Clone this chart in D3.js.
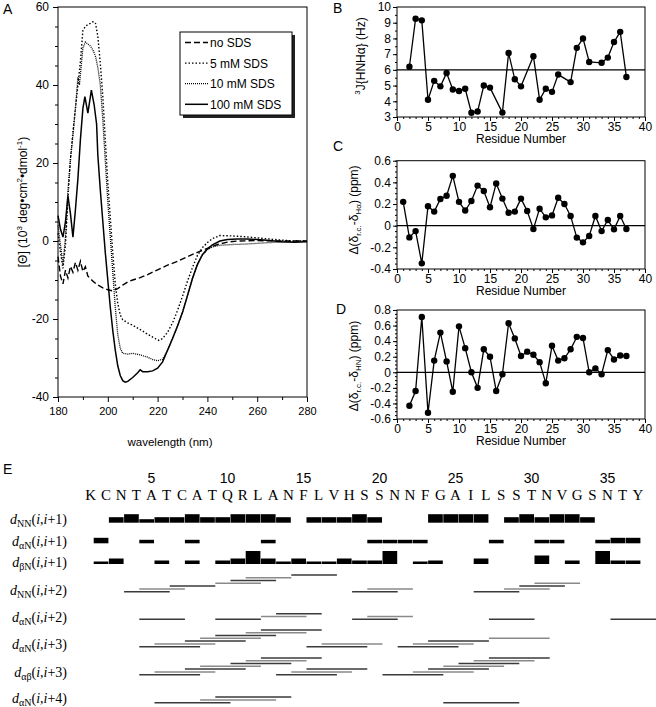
<!DOCTYPE html>
<html>
<head>
<meta charset="utf-8">
<script src="https://cdn.jsdelivr.net/npm/d3@7"></script>
<style>
  body { margin: 0; background: #fff; }
  svg { display: block; }
</style>
</head>
<body>
<svg id="chart" width="656" height="707"></svg>
<script>
'use strict';

// ---- Panel A: CD spectra, [wavelength (nm), [Θ] (10^3 deg cm2 dmol-1)] ----
const cdNoSds = [
  [180, -4], [181, -9], [182, -11], [183, -7.5], [184, -9.5], [185, -6.5], [186, -8],
  [187, -5.5], [188, -7.5], [189, -5.2], [190, -7.8], [191, -6.6], [192, -9], [194, -10.3],
  [196, -11.3], [198, -12], [200, -12.5], [202, -12.8], [204, -12.2], [206, -11.3],
  [208, -10.5], [210, -10], [213, -9.4], [216, -8.6], [220, -7.4], [224, -6.2],
  [228, -5.2], [232, -4], [236, -2.9], [240, -1.9], [244, -0.9], [248, -0.3],
  [252, 0], [260, 0.1], [270, 0], [280, 0]
];
const cd5mM = [
  [180, 2], [181, -3], [182, -7], [183, -1], [184, 11], [185, 21], [186, 28],
  [187, 34], [188, 40], [189, 46], [190, 54], [191, 55], [192, 55.5], [193, 55.8],
  [194, 56.2], [195, 56], [196, 52.5], [197, 45.5], [198, 37], [199, 26], [200, 15],
  [201, 6], [202, -3], [203, -11], [204, -16], [205, -19], [206, -20.2], [208, -21],
  [210, -21.6], [213, -22.7], [216, -23.9], [219, -25], [220.5, -25.5], [222, -25],
  [224, -23.4], [226, -21], [228, -17.8], [230, -14.2], [232, -10.3], [234, -6.8],
  [236, -3.7], [238, -1.7], [240, -0.4], [242, 0.6], [245, 1.4], [250, 1.3],
  [255, 1.1], [260, 0.8], [265, 0.5], [270, 0.2], [275, 0], [280, 0]
];
const cd10mM = [
  [180, 4], [181, -1], [182, -6], [183, 1], [184, 13], [185, 21], [186, 27],
  [187, 34], [188, 42], [188.6, 40], [189.2, 44], [190, 49.5], [191, 51], [192, 50.5],
  [193, 50], [194, 49], [195, 47.5], [196, 44.5], [197, 40], [198, 31], [199, 20.5],
  [200, 10], [201, 1], [202, -8], [203, -17], [204, -24], [205, -27.5], [206, -28.8],
  [208, -29], [210, -28.8], [213, -29.2], [216, -29.8], [218, -30.4], [220, -30.7],
  [222, -30.3], [224, -28], [226, -25], [228, -21.8], [230, -18.3], [232, -14],
  [234, -9.6], [236, -6], [238, -3.6], [240, -2.2], [242, -1.5], [245, -1.1],
  [250, -0.9], [255, -0.8], [260, -0.6], [265, -0.4], [270, -0.3], [275, -0.1], [280, 0]
];
const cd100mM = [
  [180, 6.5], [181, 3], [182, 1], [183, 5], [184, 11.5], [185, 7], [186, 1],
  [187, 8], [188, 16], [189, 26], [190, 34], [190.8, 37], [192, 32.8], [193.4, 38.7],
  [194.5, 35], [195.5, 30], [196, 22], [197, 13], [198, 5], [199, -3], [200, -10],
  [201, -17], [202, -23], [203, -28], [204, -32], [205, -34.5], [206, -35.8],
  [207, -36.2], [208, -36], [210, -35], [212, -33.8], [213, -33], [214, -33.5],
  [216, -33.5], [218, -33.3], [220, -32.6], [222, -31], [224, -28], [226, -25],
  [228, -21.8], [230, -18.3], [232, -14], [234, -9.6], [236, -6], [238, -3.5],
  [240, -2], [242, -1], [245, 0], [248, 0.4], [252, 0.5], [256, 0.5], [260, 0.4],
  [265, 0.1], [270, -0.2], [275, -0.3], [280, -0.2]
];
const cdLegend = ['no SDS', '5 mM SDS', '10 mM SDS', '100 mM SDS'];
const cdXTicks = [180, 200, 220, 240, 260, 280];
const cdYTicks = [-40, -20, 0, 20, 40, 60];

// ---- Panel B: 3J(HNHa) coupling constants ----
const jResidues = [2, 3, 4, 5, 6, 7, 8, 9, 10, 11, 12, 13, 14, 15, 17, 18, 19, 20,
  22, 23, 24, 25, 26, 28, 29, 30, 31, 33, 34, 35, 36, 37];
const jValues = [6.2, 9.25, 9.15, 4.1, 5.3, 4.95, 5.8, 4.75, 4.65, 4.8, 3.27, 3.35,
  5.0, 4.87, 3.28, 7.07, 5.4, 4.95, 6.87, 4.1, 4.8, 4.6, 5.7, 5.22, 7.4, 8.0, 6.5,
  6.45, 6.78, 7.77, 8.42, 5.55];
const jRef = 6;
const jTicks = [3, 4, 5, 6, 7, 8, 9, 10];

// ---- Panel C: Ha secondary shifts, residues 1-37 ----
const haResidues = d3.range(1, 38);
const haShift = [0.22, -0.108, -0.05, -0.348, 0.18, 0.13, 0.246, 0.277, 0.46, 0.22,
  0.14, 0.228, 0.37, 0.32, 0.17, 0.39, 0.25, 0.12, 0.13, 0.25,
  0.135, -0.03, 0.157, 0.077, 0.095, 0.258, 0.2, 0.09, -0.11, -0.154,
  -0.095, 0.09, -0.05, 0.052, -0.034, 0.09, -0.03];
const haTicks = [-0.4, -0.2, 0, 0.2, 0.4, 0.6];

// ---- Panel D: HN secondary shifts, residues 2-37 ----
const hnResidues = d3.range(2, 38);
const hnShift = [-0.43, -0.24, 0.71, -0.52, 0.15, 0.51, 0.14, -0.25, 0.59, 0.31,
  0.0, -0.2, 0.295, 0.2, -0.24, -0.025, 0.63, 0.435, 0.21, 0.265,
  0.225, 0.13, -0.14, 0.34, 0.15, 0.18, 0.295, 0.455, 0.44, 0.0,
  0.05, -0.025, 0.285, 0.165, 0.215, 0.21];
const hnTicks = [-0.6, -0.4, -0.2, 0, 0.2, 0.4, 0.6, 0.8];
const residueTicks = [0, 5, 10, 15, 20, 25, 30, 35, 40];

// ---- Panel E: sequence and NOE connectivities ----
const sequence = 'KCNTATCATQRLANFLVHSSNNFGAILSSTNVGSNTY';
const sequenceTicks = [5, 10, 15, 20, 25, 30, 35];
// [residue i, NOE intensity class 1 (weak) .. 5 (very strong)]
const noeNN1 = [[2, 3], [3, 4], [4, 2], [5, 3], [6, 3], [7, 4], [8, 3], [9, 3], [10, 4],
  [11, 4], [12, 4], [13, 3], [15, 3], [16, 3], [17, 3], [18, 4], [19, 3], [23, 4],
  [24, 4], [25, 4], [26, 4], [28, 3], [29, 4], [30, 3], [31, 4], [32, 4], [33, 3]];
const noeAN1 = [[1, 3], [4, 2], [7, 2], [12, 2], [19, 2], [20, 2], [21, 2], [22, 2],
  [27, 2], [30, 2], [31, 2], [34, 2], [35, 3], [36, 3]];
const noeBN1 = [[1, 1], [2, 3], [5, 2], [7, 2], [9, 2], [10, 3], [11, 5], [12, 3],
  [13, 1], [14, 3], [15, 1], [16, 1], [17, 3], [18, 2], [19, 2], [20, 5], [22, 1],
  [23, 2], [26, 3], [30, 4], [32, 2], [34, 5], [35, 2], [36, 2]];
// medium range NOEs: starting residue i
const noeNN2 = [3, 4, 6, 9, 10, 11, 14, 18, 19, 26, 28, 29, 30];
const noeAN2 = [4, 9, 12, 13, 18, 19, 27, 35];
const noeAN3 = [4, 5, 7, 8, 9, 11, 12, 15, 16, 21, 22, 23, 27];
const noeAB3 = [4, 5, 7, 8, 10, 11, 12, 13, 14, 15, 20, 22, 23, 24, 25, 26, 27];
const noeAN4 = [5, 8, 9, 24];

const SANS = "'Liberation Sans', Arial, Helvetica, sans-serif";
const SERIF = "'Liberation Serif', 'Times New Roman', serif";

const svg = d3.select('#chart');

/**
 * Clean up a d3 axis: drop the domain path, set fonts
 */
function styleAxis(sel, fontSize) {
  sel.select('.domain').remove();
  sel.selectAll('line').attr('stroke', '#000');
  sel
    .selectAll('text')
    .attr('font-size', fontSize)
    .attr('font-family', SANS)
    .attr('fill', '#000');
}

/**
 * Append text made of parts: [string, kind] with kind sup, sub, it or null
 */
function richText(text, parts, smallSize) {
  parts.forEach(function(p) {
    const t = text.append('tspan').text(p[0]);
    if (p[1] === 'sup') {
      t.attr('font-size', smallSize).attr('baseline-shift', '5');
    } else if (p[1] === 'sub') {
      t.attr('font-size', smallSize).attr('baseline-shift', '-3');
    } else if (p[1] === 'it') {
      t.attr('font-style', 'italic');
    }
  });
  return text;
}

function panelLetter(label, x, y) {
  svg
    .append('text')
    .attr('x', x)
    .attr('y', y)
    .attr('font-family', SANS)
    .attr('font-size', 14)
    .text(label);
}

// ================= Panel A =================
function drawPanelA() {
  const x = d3.scaleLinear().domain([180, 280]).range([58, 307]);
  const y = d3.scaleLinear().domain([-40, 60]).range([397, 7]);
  const g = svg.append('g').attr('id', 'panel-a');

  g.append('g')
    .attr('transform', 'translate(0,397)')
    .call(d3.axisBottom(x).tickValues(cdXTicks).tickSize(5).tickPadding(5))
    .call(styleAxis, 11);
  g.append('g')
    .attr('transform', 'translate(0,397)')
    .call(d3.axisBottom(x).tickValues([190, 210, 230, 250, 270]).tickSize(3).tickFormat(''))
    .call(styleAxis, 11);
  g.append('g')
    .attr('transform', 'translate(58,0)')
    .call(d3.axisLeft(y).tickValues(cdYTicks).tickSize(5).tickPadding(4).tickFormat(String))
    .call(styleAxis, 12);
  g.append('g')
    .attr('transform', 'translate(58,0)')
    .call(d3.axisLeft(y).tickValues(d3.range(-40, 61, 5)).tickSize(3).tickFormat(''))
    .call(styleAxis, 12);

  g.append('rect')
    .attr('x', 58)
    .attr('y', 7)
    .attr('width', 307 - 58)
    .attr('height', 397 - 7)
    .attr('fill', 'none')
    .attr('stroke', '#000');

  const line = d3
    .line()
    .x(function(d) {
      return x(d[0]);
    })
    .y(function(d) {
      return y(d[1]);
    });

  const series = [
    { data: cdNoSds, dash: '6,3', width: 1.4 },
    { data: cd5mM, dash: '1.5,2', width: 1.4 },
    { data: cd10mM, dash: '1,1', width: 1.3 },
    { data: cd100mM, dash: null, width: 1.5 },
  ];
  series.forEach(function(s) {
    g.append('path')
      .datum(s.data)
      .attr('d', line)
      .attr('fill', 'none')
      .attr('stroke', '#000')
      .attr('stroke-width', s.width)
      .attr('stroke-dasharray', s.dash);
  });

  // legend with drop shadow
  const lg = g.append('g').attr('transform', 'translate(180,32)');
  lg.append('rect').attr('x', 3).attr('y', 3).attr('width', 112).attr('height', 83).attr('fill', '#222');
  lg.append('rect')
    .attr('width', 112)
    .attr('height', 83)
    .attr('fill', '#fff')
    .attr('stroke', '#000');
  cdLegend.forEach(function(name, i) {
    const cy = 10.5 + i * 20.6;
    lg.append('line')
      .attr('x1', 5)
      .attr('x2', 28)
      .attr('y1', cy)
      .attr('y2', cy)
      .attr('stroke', '#000')
      .attr('stroke-width', series[i].width)
      .attr('stroke-dasharray', series[i].dash);
    lg.append('text')
      .attr('x', 30)
      .attr('y', cy + 4.5)
      .attr('font-family', SANS)
      .attr('font-size', 12)
      .text(name);
  });

  g.append('text')
    .attr('x', 170)
    .attr('y', 446)
    .attr('text-anchor', 'middle')
    .attr('font-family', SANS)
    .attr('font-size', 11.5)
    .text('wavelength (nm)');

  const yl = g
    .append('text')
    .attr('transform', 'translate(27,202) rotate(-90)')
    .attr('text-anchor', 'middle')
    .attr('font-family', SANS)
    .attr('font-size', 12);
  richText(
    yl,
    [
      ['[Θ] (10', null],
      ['3', 'sup'],
      [' deg•cm', null],
      ['2', 'sup'],
      ['•dmol', null],
      ['-1', 'sup'],
      [')', null],
    ],
    8
  );
}

// ================= Panels B, C, D =================
function drawResiduePanel(opt) {
  const x = d3.scaleLinear().domain([0, 40]).range([397, 645]);
  const y = d3.scaleLinear().domain(opt.domain).range([opt.y1, opt.y0]);
  const g = svg.append('g');

  g.append('g')
    .attr('transform', 'translate(0,' + opt.y1 + ')')
    .call(d3.axisBottom(x).tickValues(residueTicks).tickSize(4).tickPadding(1))
    .call(styleAxis, 12);
  g.append('g')
    .attr('transform', 'translate(0,' + opt.y1 + ')')
    .call(d3.axisBottom(x).tickValues(d3.range(0, 41)).tickSize(2).tickFormat(''))
    .call(styleAxis, 12);
  g.append('g')
    .attr('transform', 'translate(397,0)')
    .call(d3.axisLeft(y).tickValues(opt.ticks).tickSize(4).tickPadding(2).tickFormat(opt.format))
    .call(styleAxis, 12);
  g.append('g')
    .attr('transform', 'translate(397,0)')
    .call(d3.axisLeft(y).tickValues(opt.minor).tickSize(2).tickFormat(''))
    .call(styleAxis, 12);

  g.append('rect')
    .attr('x', 397)
    .attr('y', opt.y0)
    .attr('width', 645 - 397)
    .attr('height', opt.y1 - opt.y0)
    .attr('fill', 'none')
    .attr('stroke', '#000');

  g.append('line')
    .attr('x1', 397)
    .attr('x2', 645)
    .attr('y1', y(opt.ref))
    .attr('y2', y(opt.ref))
    .attr('stroke', '#000')
    .attr('stroke-width', 1.2);

  const pts = opt.residues.map(function(r, i) {
    return [r, opt.values[i]];
  });
  g.append('path')
    .datum(pts)
    .attr(
      'd',
      d3
        .line()
        .x(function(d) {
          return x(d[0]);
        })
        .y(function(d) {
          return y(d[1]);
        })
    )
    .attr('fill', 'none')
    .attr('stroke', '#000')
    .attr('stroke-width', 1.3);
  g.selectAll('circle')
    .data(pts)
    .enter()
    .append('circle')
    .attr('cx', function(d) {
      return x(d[0]);
    })
    .attr('cy', function(d) {
      return y(d[1]);
    })
    .attr('r', 3.2)
    .attr('fill', '#000');

  g.append('text')
    .attr('x', 521)
    .attr('y', opt.y1 + 26)
    .attr('text-anchor', 'middle')
    .attr('font-family', SANS)
    .attr('font-size', 12)
    .text('Residue Number');

  const yl = g
    .append('text')
    .attr('transform', 'translate(' + opt.labelX + ',' + opt.labelY + ') rotate(-90)')
    .attr('text-anchor', 'middle')
    .attr('font-family', SANS)
    .attr('font-size', 12);
  richText(yl, opt.label, 8);
}

function shiftFormat(d) {
  return d === 0 ? '0' : d.toFixed(1);
}

// ================= Panel E =================
const seqX = d3.scaleLinear().domain([1, 37]).range([90.7, 637.9]);
function noeX(r) {
  return seqX(r) + 3;
}
const noeHeight = d3
  .scaleOrdinal()
  .domain([1, 2, 3, 4, 5])
  .range([2.5, 3.5, 5.5, 8.5, 13]);

/**
 * Stack medium range NOE lines: a line starting inside the previous one goes
 * one step up, cycling over seven steps as in the original drawing.
 */
function stackLanes(starts, span) {
  let lane = 0;
  let prevEnd = -Infinity;
  return starts.map(function(s) {
    lane = s <= prevEnd ? (lane + 1) % 7 : 0;
    prevEnd = s + span + 1;
    return { start: s, end: s + span + 1, lane: lane };
  });
}

function rowLabel(g, y, sub, span) {
  const t = g
    .append('text')
    .attr('x', 67)
    .attr('y', y + 5)
    .attr('text-anchor', 'end')
    .attr('font-family', SERIF)
    .attr('font-size', 14);
  richText(
    t,
    [
      ['d', 'it'],
      [sub, 'sub'],
      ['(', null],
      ['i', 'it'],
      [',', null],
      ['i', 'it'],
      ['+' + span + ')', null],
    ],
    10
  );
}

function drawPanelE() {
  const g = svg.append('g').attr('id', 'panel-e');

  g.selectAll('.seq-num')
    .data(sequenceTicks)
    .enter()
    .append('text')
    .attr('class', 'seq-num')
    .attr('x', function(d) {
      return seqX(d);
    })
    .attr('y', 483)
    .attr('text-anchor', 'middle')
    .attr('font-family', SANS)
    .attr('font-size', 14)
    .text(String);

  g.selectAll('.seq-aa')
    .data(sequence.split(''))
    .enter()
    .append('text')
    .attr('class', 'seq-aa')
    .attr('x', function(d, i) {
      return seqX(i + 1);
    })
    .attr('y', 500)
    .attr('text-anchor', 'middle')
    .attr('font-family', SERIF)
    .attr('font-size', 15)
    .text(function(d) {
      return d;
    });

  const barRows = [
    { data: noeNN1, sub: 'NN', bottom: 522.7, label: 519 },
    { data: noeAN1, sub: 'αN', bottom: 543.3, label: 541 },
    { data: noeBN1, sub: 'βN', bottom: 564, label: 562 },
  ];
  barRows.forEach(function(row) {
    rowLabel(g, row.label, row.sub, 1);
    g.append('g')
      .selectAll('rect')
      .data(row.data)
      .enter()
      .append('rect')
      .attr('x', function(d) {
        return noeX(d[0]);
      })
      .attr('width', function(d) {
        return noeX(d[0] + 1) - noeX(d[0]) - 0.5;
      })
      .attr('y', function(d) {
        return row.bottom - noeHeight(d[1]);
      })
      .attr('height', function(d) {
        return noeHeight(d[1]);
      })
      .attr('fill', '#000');
  });

  const lineRows = [
    { data: noeNN2, sub: 'NN', span: 2, base: 591.7, label: 590 },
    { data: noeAN2, sub: 'αN', span: 2, base: 619.3, label: 617 },
    { data: noeAN3, sub: 'αN', span: 3, base: 646.7, label: 644 },
    { data: noeAB3, sub: 'αβ', span: 3, base: 674.7, label: 672 },
    { data: noeAN4, sub: 'αN', span: 4, base: 702.7, label: 698 },
  ];
  lineRows.forEach(function(row) {
    rowLabel(g, row.label, row.sub, row.span);
    g.append('g')
      .selectAll('line')
      .data(stackLanes(row.data, row.span))
      .enter()
      .append('line')
      .attr('x1', function(d) {
        return noeX(d.start);
      })
      .attr('x2', function(d) {
        return noeX(d.end);
      })
      .attr('y1', function(d) {
        return row.base - d.lane * 2.8;
      })
      .attr('y2', function(d) {
        return row.base - d.lane * 2.8;
      })
      .attr('stroke', function(d) {
        return d.lane % 2 ? '#8a8a8a' : '#3a3a3a';
      })
      .attr('stroke-width', 1.5);
  });
}

drawPanelA();

drawResiduePanel({
  y0: 7,
  y1: 117,
  domain: [3, 10],
  ticks: jTicks,
  minor: d3.range(6, 21).map(function(v) {
    return v / 2;
  }),
  format: String,
  ref: jRef,
  residues: jResidues,
  values: jValues,
  labelX: 365,
  labelY: 56,
  label: [
    ['3', 'sup'],
    ['J{HNHα} (Hz)', null],
  ],
});

drawResiduePanel({
  y0: 160.7,
  y1: 269,
  domain: [-0.4, 0.6],
  ticks: haTicks,
  minor: d3.range(-8, 13).map(function(v) {
    return v / 20;
  }),
  format: shiftFormat,
  ref: 0,
  residues: haResidues,
  values: haShift,
  labelX: 358,
  labelY: 210,
  label: [
    ['Δ(δ', null],
    ['r.c.', 'sub'],
    ['-δ', null],
    ['Hα', 'sub'],
    [') (ppm)', null],
  ],
});

drawResiduePanel({
  y0: 310,
  y1: 419,
  domain: [-0.6, 0.8],
  ticks: hnTicks,
  minor: d3.range(-12, 17).map(function(v) {
    return v / 20;
  }),
  format: shiftFormat,
  ref: 0,
  residues: hnResidues,
  values: hnShift,
  labelX: 358,
  labelY: 366,
  label: [
    ['Δ(δ', null],
    ['r.c.', 'sub'],
    ['-δ', null],
    ['HN', 'sub'],
    [') (ppm)', null],
  ],
});

drawPanelE();

panelLetter('A', 3, 14);
panelLetter('B', 333, 13);
panelLetter('C', 333, 151);
panelLetter('D', 336, 314);
panelLetter('E', 3, 474);
</script>
</body>
</html>
